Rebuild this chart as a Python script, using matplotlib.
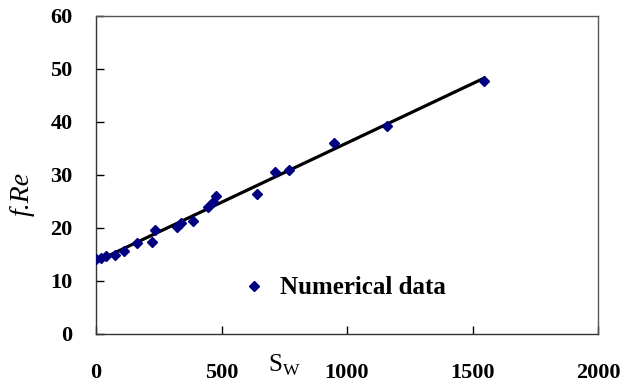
import matplotlib
matplotlib.use('Agg')
from matplotlib import pyplot as plt
import numpy as np

SW = [0, 20, 40, 75, 110, 162, 222, 235, 322, 338, 385, 445, 465, 480,
      643, 713, 770, 949, 1158, 1547]
F_RE = [14.15, 14.3, 14.7, 14.9, 15.6, 17.2, 17.4, 19.6, 20.2, 21.0, 21.4,
        24.0, 24.9, 26.0, 26.5, 30.6, 30.9, 36.0, 39.3, 47.7]
X_TICKS = [0, 500, 1000, 1500, 2000]
Y_TICKS = [0, 10, 20, 30, 40, 50, 60]
LEGEND_LABEL = 'Numerical data'

SERIF = 'Liberation Serif'


def main():
    fig = plt.figure(figsize=(6.25, 3.87), dpi=100)
    ax = fig.add_axes([0.1536, 0.137, 0.8032, 0.8217])

    # linear fit through the numerical points
    coef = np.polyfit(SW, F_RE, 1)
    x_fit = np.array([min(SW) + 8, max(SW)])
    ax.plot(x_fit, np.polyval(coef, x_fit), color='black', lw=2.3, zorder=2)

    ax.plot(SW, F_RE, linestyle='none', marker='D', ms=5.5, color='#000080',
            label=LEGEND_LABEL, zorder=3)

    ax.set_xlim(0, 2000)
    ax.set_ylim(0, 60)
    ax.set_xticks(X_TICKS)
    ax.set_yticks(Y_TICKS)
    ax.tick_params(direction='in', length=6, width=1, color='black')
    ax.tick_params(axis='x', pad=21, top=False)
    ax.tick_params(axis='y', pad=17, right=False)
    for lab in ax.get_xticklabels() + ax.get_yticklabels():
        lab.set_fontfamily(SERIF)
        lab.set_fontweight('bold')
        lab.set_fontsize(16)
    for sp in ax.spines.values():
        sp.set_color('#555555')
        sp.set_linewidth(1.0)
    ax.spines['bottom'].set_color('#333333')
    ax.spines['left'].set_color('#333333')

    ax.text(0.342, -0.1, r'S$_{\mathregular{W}}$', transform=ax.transAxes,
            fontfamily=SERIF, fontsize=18, ha='left', va='center')
    fig.text(0.036, 0.50, 'f.Re', rotation=90, fontfamily=SERIF,
             fontstyle='italic', fontsize=20, ha='center', va='center')

    ax.legend(loc='center left', bbox_to_anchor=(0.289, 0.145),
              frameon=False, numpoints=1, handlelength=1.0,
              handletextpad=0.55, borderpad=0, borderaxespad=0,
              markerscale=0.85,
              prop={'family': SERIF, 'weight': 'bold', 'size': 18})

    fig.savefig('out.png', dpi=100)


if __name__ == '__main__':
    main()
